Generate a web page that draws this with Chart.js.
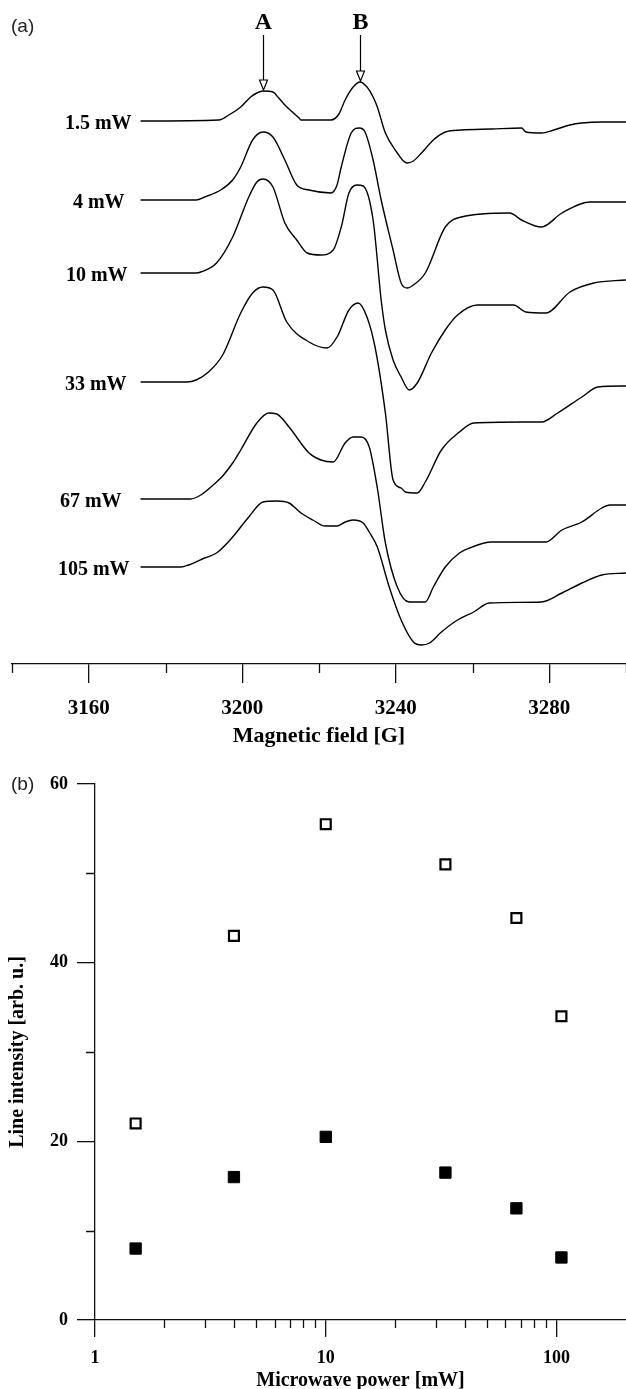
<!DOCTYPE html>
<html>
<head>
<meta charset="utf-8">
<script src="https://cdn.jsdelivr.net/npm/chart.js@4.4.1/dist/chart.umd.min.js"></script>
<style>
  html, body { margin: 0; padding: 0; background: #fff; }
  #wrap { position: relative; width: 626px; height: 1389px; overflow: hidden; }
  canvas { position: absolute; left: 0; }
  #specChart { top: 0; }
  #satChart { top: 745px; }
</style>
</head>
<body>
<div id="wrap">
  <canvas id="specChart" width="626" height="752"></canvas>
  <canvas id="satChart" width="626" height="644"></canvas>
</div>
<script>
// ---- (a) EPR spectra at increasing microwave power ----
const powerLabels = ['1.5 mW', '4 mW', '10 mW', '33 mW', '67 mW', '105 mW'];
// vertical offset of each spectrum's baseline (arb. u.)
const baselineOffsets = [543, 464, 391, 282, 165, 97];

const field15  = [3173.5, 3193.9, 3196.5, 3199.6, 3202.2, 3203.8, 3205.4, 3208.0, 3209.5, 3211.1, 3214.8, 3215.3, 3223.1, 3225.2, 3226.8, 3228.9, 3230.7, 3232.5, 3234.1, 3235.2, 3237.3, 3240.4, 3242.0, 3243.0, 3244.6, 3246.7, 3249.8, 3252.9, 3257.1, 3265.0, 3272.8, 3273.9, 3278.0, 3281.2, 3285.4, 3288.5, 3293.7, 3300];
const signal15 = [0, 1, 6, 14, 24, 28, 30, 29, 23, 16, 3, 1, 1, 7, 21, 34, 39, 34, 24, 14, -12, -32, -40, -42, -40, -32, -19, -11, -9, -8, -7, -11, -12, -9, -4, -2, -1, -1];

const field4  = [3173.5, 3188.0, 3190.2, 3194.4, 3197.5, 3199.6, 3202.7, 3205.4, 3208.0, 3211.1, 3214.2, 3217.4, 3223.1, 3224.7, 3225.8, 3228.4, 3230.5, 3232.0, 3234.1, 3236.2, 3239.3, 3241.4, 3243.0, 3244.6, 3247.7, 3252.9, 3257.1, 3269.7, 3272.8, 3278.0, 3283.3, 3290.6, 3300];
const signal4 = [0, 0, 3, 10, 20, 33, 60, 68, 63, 40, 15, 10, 7, 15, 33, 67, 72, 68, 40, 0, -50, -83, -88, -85, -73, -27, -17, -13, -20, -27, -13, -2, -2];

const field10  = [3173.5, 3188.0, 3189.2, 3193.3, 3197.5, 3201.7, 3203.8, 3205.4, 3208.0, 3211.1, 3214.2, 3216.9, 3220.5, 3223.7, 3225.8, 3227.8, 3229.9, 3231.5, 3234.1, 3236.2, 3237.3, 3239.3, 3241.4, 3243.5, 3245.6, 3249.3, 3252.9, 3256.1, 3261.3, 3270.7, 3273.9, 3279.1, 3285.4, 3291.6, 3300];
const signal10 = [0, 0, 1, 10, 36, 76, 91, 94, 86, 50, 33, 20, 18, 23, 46, 80, 88, 87, 53, -27, -57, -87, -104, -117, -110, -80, -57, -42, -32, -32, -39, -40, -19, -10, -7];

const field33  = [3173.5, 3185.5, 3188.0, 3191.2, 3194.9, 3199.6, 3202.7, 3205.4, 3208.0, 3211.6, 3217.4, 3222.1, 3224.7, 3227.8, 3230.2, 3232.5, 3234.6, 3237.3, 3239.3, 3241.4, 3242.5, 3245.6, 3247.7, 3251.9, 3256.6, 3260.3, 3272.8, 3278.0, 3282.2, 3288.5, 3292.7, 3300];
const signal33 = [0, 0, 2, 10, 27, 69, 89, 95, 92, 60, 40, 34, 45, 72, 79, 65, 35, -31, -98, -106, -110, -111, -100, -68, -50, -41, -40, -40, -31, -15, -5, -4];

const field67  = [3173.5, 3186.5, 3189.2, 3193.3, 3194.9, 3197.5, 3199.6, 3203.8, 3206.9, 3209.0, 3212.2, 3217.4, 3220.5, 3223.7, 3226.8, 3228.9, 3231.0, 3233.1, 3235.2, 3237.3, 3240.4, 3243.5, 3247.7, 3249.8, 3252.9, 3256.6, 3259.2, 3265.0, 3279.1, 3283.3, 3288.5, 3293.7, 3295.8, 3300];
const signal67 = [0, 0, 4, 17, 23, 36, 49, 76, 86, 85, 72, 46, 39, 37, 56, 62, 62, 52, 11, -44, -88, -103, -103, -88, -68, -54, -49, -43, -43, -31, -23, -9, -6, -6];

const field105  = [3173.5, 3184.0, 3186.0, 3190.2, 3193.3, 3197.5, 3201.7, 3205.4, 3209.0, 3212.2, 3215.3, 3218.4, 3221.6, 3224.7, 3226.8, 3228.9, 3231.5, 3233.1, 3235.2, 3238.3, 3241.4, 3244.6, 3246.7, 3248.8, 3251.9, 3256.1, 3260.3, 3264.4, 3278.0, 3283.3, 3288.5, 3293.7, 3300];
const signal105 = [0, 0, 2, 9, 14, 30, 50, 65, 66, 64, 54, 47, 41, 41, 45, 47, 44, 35, 20, -20, -53, -75, -78, -76, -65, -53, -45, -36, -35, -26, -16, -8, -6];

const fieldTicks = [3160, 3200, 3240, 3280];
const fieldMinorTicks = [3140, 3180, 3220, 3260, 3300];

// resonance lines marked on the lowest-power spectrum
const lineNames = ['A', 'B'];
const lineFields = [3205.4, 3230.7];

// ---- (b) line intensity vs microwave power ----
const powerMW = [1.5, 4, 10, 33, 67, 105];
const intensityOpen = [22, 43, 55.5, 51, 45, 34];
const intensityFilled = [8, 16, 20.5, 16.5, 12.5, 7];
const powerTicks = [1, 10, 100];
const powerMinorTicks = [2, 3, 4, 5, 6, 7, 8, 9, 20, 30, 40, 50, 60, 70, 80, 90];
const intensityTicks = [0, 20, 40, 60];
const intensityMinorTicks = [10, 30, 50];

const SERIF = "'Liberation Serif', 'DejaVu Serif', serif";
const SANS = "'Liberation Sans', Arial, sans-serif";
const INK = '#111';

// horizontal nudge of each power label (px), keeps the column slightly ragged
const labelNudge = [0, -7, -4, -5, -10, -2];

// short tick marks between the labelled ones
const minorTicks = {
  id: 'minorTicks',
  afterDraw(chart, args, opts) {
    const ctx = chart.ctx;
    ctx.save();
    ctx.strokeStyle = INK;
    ctx.lineWidth = opts.lineWidth || 1.3;
    ctx.beginPath();
    const sx = chart.scales.x;
    (opts.x || []).forEach(v => {
      const px = Math.round(sx.getPixelForValue(v)) + 0.5;
      ctx.moveTo(px, sx.top);
      ctx.lineTo(px, sx.top + opts.xLength);
    });
    const sy = chart.scales.y;
    if (sy && sy.options.display !== false) {
      (opts.y || []).forEach(v => {
        const py = Math.round(sy.getPixelForValue(v)) + 0.5;
        ctx.moveTo(sy.right - opts.yLength, py);
        ctx.lineTo(sy.right, py);
      });
    }
    ctx.stroke();
    ctx.restore();
  }
};

// panel letter in the upper-left corner
const panelTag = {
  id: 'panelTag',
  afterDraw(chart, args, opts) {
    const ctx = chart.ctx;
    ctx.save();
    ctx.font = '19px ' + SANS;
    ctx.fillStyle = '#222';
    ctx.textAlign = 'left';
    ctx.textBaseline = 'middle';
    ctx.fillText(opts.text, opts.x, opts.y);
    ctx.restore();
  }
};

// power label to the left of each spectrum
const traceLabels = {
  id: 'traceLabels',
  afterDatasetsDraw(chart) {
    const ctx = chart.ctx;
    ctx.save();
    ctx.font = 'bold 20px ' + SERIF;
    ctx.fillStyle = '#000';
    ctx.textAlign = 'right';
    ctx.textBaseline = 'middle';
    chart.data.datasets.forEach((ds, i) => {
      const p = chart.getDatasetMeta(i).data[0];
      ctx.fillText(ds.label, p.x - 9 + labelNudge[i], p.y + 3);
    });
    ctx.restore();
  }
};

// arrows pointing at lines A and B on the first spectrum
const lineArrows = {
  id: 'lineArrows',
  afterDatasetsDraw(chart) {
    const ctx = chart.ctx;
    const ds = chart.data.datasets[0];
    const meta = chart.getDatasetMeta(0);
    ctx.save();
    ctx.strokeStyle = '#000';
    ctx.lineWidth = 1.2;
    lineFields.forEach((f, k) => {
      let idx = 0;
      ds.data.forEach((d, j) => { if (Math.abs(d.x - f) < Math.abs(ds.data[idx].x - f)) idx = j; });
      const pt = meta.data[idx];
      const x = Math.round(pt.x) + 0.5;
      const tip = pt.y - 1;
      const headH = 10, headW = 4;
      ctx.beginPath();
      ctx.moveTo(x, 35);
      ctx.lineTo(x, tip - headH);
      ctx.stroke();
      ctx.beginPath();
      ctx.moveTo(x - headW, tip - headH);
      ctx.lineTo(x + headW, tip - headH);
      ctx.lineTo(x, tip);
      ctx.closePath();
      ctx.fillStyle = '#fff';
      ctx.fill();
      ctx.stroke();
      ctx.fillStyle = '#000';
      ctx.font = 'bold 24px ' + SERIF;
      ctx.textAlign = 'center';
      ctx.textBaseline = 'middle';
      ctx.fillText(lineNames[k], x, 23);
    });
    ctx.restore();
  }
};

const spectra = [
  [field15, signal15], [field4, signal4], [field10, signal10],
  [field33, signal33], [field67, signal67], [field105, signal105]
];

const specDatasets = spectra.map(([f, s], i) => ({
  label: powerLabels[i],
  data: f.map((x, j) => ({ x: x, y: baselineOffsets[i] + s[j] })),
  borderColor: '#000',
  borderWidth: 1.4,
  pointRadius: 0,
  fill: false,
  cubicInterpolationMode: 'monotone'
}));

new Chart(document.getElementById('specChart'), {
  type: 'line',
  data: { datasets: specDatasets },
  plugins: [minorTicks, panelTag, traceLabels, lineArrows],
  options: {
    responsive: false,
    animation: false,
    layout: { autoPadding: false, padding: { left: 12, right: 0, top: 0, bottom: 0 } },
    plugins: {
      legend: { display: false },
      tooltip: { enabled: false },
      minorTicks: { x: fieldMinorTicks, xLength: 9, lineWidth: 1.3 },
      panelTag: { text: '(a)', x: 11, y: 27 }
    },
    scales: {
      x: {
        type: 'linear',
        min: 3140,
        max: 3300,
        afterBuildTicks: s => { s.ticks = fieldTicks.map(v => ({ value: v })); },
        afterFit: s => { s.height = 88; },
        grid: { drawOnChartArea: false, drawTicks: true, tickLength: 19, color: INK, lineWidth: 1.3 },
        border: { display: true, color: INK, width: 1.3 },
        ticks: {
          autoSkip: false, maxRotation: 0, padding: 13, color: '#000',
          font: { family: SERIF, weight: 'bold', size: 21 },
          callback: v => String(v)
        },
        title: {
          display: true, text: 'Magnetic field [G]', color: '#000',
          font: { family: SERIF, weight: 'bold', size: 22 },
          padding: { top: 0, bottom: 2 }
        }
      },
      y: { display: false, min: 0, max: 664 }
    }
  }
});

new Chart(document.getElementById('satChart'), {
  type: 'scatter',
  data: {
    datasets: [
      {
        label: 'A',
        data: powerMW.map((p, i) => ({ x: p, y: intensityOpen[i] })),
        pointStyle: 'rect', pointRadius: 7, borderWidth: 2.2,
        borderColor: '#000', backgroundColor: '#fff'
      },
      {
        label: 'B',
        data: powerMW.map((p, i) => ({ x: p, y: intensityFilled[i] })),
        pointStyle: 'rect', pointRadius: 8, borderWidth: 1,
        borderColor: '#000', backgroundColor: '#000'
      }
    ]
  },
  plugins: [minorTicks, panelTag],
  options: {
    responsive: false,
    animation: false,
    layout: { autoPadding: false, padding: { left: 0, right: 0, top: 39, bottom: 0 } },
    plugins: {
      legend: { display: false },
      tooltip: { enabled: false },
      minorTicks: { x: powerMinorTicks, xLength: 8, y: intensityMinorTicks, yLength: 9, lineWidth: 1.3 },
      panelTag: { text: '(b)', x: 11, y: 40 }
    },
    scales: {
      x: {
        type: 'logarithmic',
        min: 1,
        max: 200,
        afterBuildTicks: s => { s.ticks = powerTicks.map(v => ({ value: v })); },
        afterFit: s => { s.height = 69; },
        grid: { drawOnChartArea: false, drawTicks: true, tickLength: 17, color: INK, lineWidth: 1.3 },
        border: { display: true, color: INK, width: 1.3 },
        ticks: {
          autoSkip: false, maxRotation: 0, padding: 11, color: '#000',
          font: { family: SERIF, weight: 'bold', size: 18 },
          callback: v => String(v)
        },
        title: {
          display: true, text: 'Microwave power [mW]', color: '#000',
          font: { family: SERIF, weight: 'bold', size: 20 },
          padding: { top: 0, bottom: -4 }
        }
      },
      y: {
        type: 'linear',
        min: 0,
        max: 60,
        afterBuildTicks: s => { s.ticks = intensityTicks.map(v => ({ value: v })); },
        afterFit: s => { s.width = 95; },
        grid: { drawOnChartArea: false, drawTicks: true, tickLength: 18, color: INK, lineWidth: 1.3 },
        border: { display: true, color: INK, width: 1.3 },
        ticks: {
          autoSkip: false, padding: 9, color: '#000',
          font: { family: SERIF, weight: 'bold', size: 18 },
          callback: v => String(v)
        },
        title: {
          display: true, text: 'Line intensity [arb. u.]', color: '#000',
          font: { family: SERIF, weight: 'bold', size: 20 },
          padding: { top: 6, bottom: 0 }
        }
      }
    }
  }
});
</script>
</body>
</html>
